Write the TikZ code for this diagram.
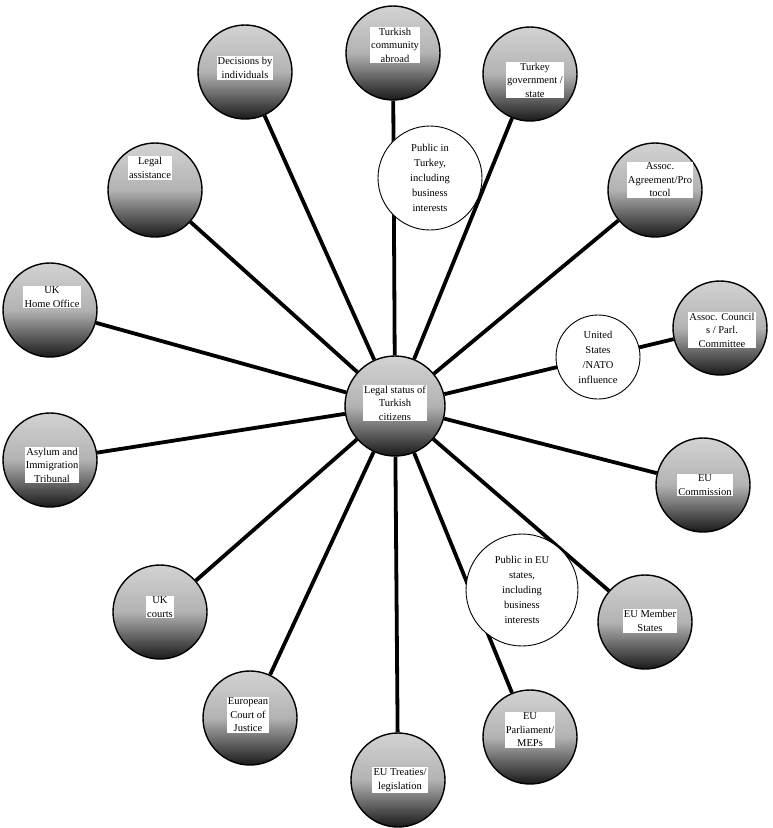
\documentclass[tikz,border=0pt]{standalone}
\usepackage{fontspec}
\setmainfont{Liberation Serif}
\begin{document}
\begin{tikzpicture}[x=1pt,y=-1pt,
  globe/.style={circle,minimum size=94pt,inner sep=0pt,draw=black,line width=1.4pt,
    top color=gray!35,bottom color=black!90,middle color=gray!60},
  hub/.style={globe,minimum size=100pt},
  pub/.style={circle,draw=black,line width=0.9pt,fill=white,align=center,inner sep=0pt,
    font=\fontsize{10.5}{15}\selectfont},
  lbl/.style={fill=white,inner sep=1.2pt,align=center,font=\fontsize{10.5}{13.5}\selectfont},
  spoke/.style={line width=3.8pt,black}]
\useasboundingbox (0,0) rectangle (772,828);
% hub
\node[hub] (c) at (395,406) {};
\node[lbl] (cl) at (395,403) {Legal status of\\Turkish\\citizens};
% outer globes
\node[globe] (g1) at (393,53) {};
\node[lbl] (g1l) at (395,45) {Turkish\\community\\abroad};
\node[globe] (g2) at (530,74) {};
\node[lbl] (g2l) at (535,80) {Turkey\\government /\\state};
\node[globe] (g3) at (245,72) {};
\node[lbl] (g3l) at (245,68) {Decisions by\\individuals};
\node[globe] (g4) at (155,190) {};
\node[lbl] (g4l) at (150,168) {Legal\\assistance};
\node[globe] (g5) at (655,190) {};
\node[lbl] (g5l) at (660,180) {Assoc.\\Agreement/Pro\\tocol};
\node[globe] (g6) at (50,310) {};
\node[lbl] (g6l) at (52,297) {UK\\Home Office};
\node[globe] (g7) at (720,328) {};
\node[lbl] (g7l) at (722,330) {Assoc. Council\\s / Parl.\\Committee};
\node[globe] (g8) at (50,460) {};
\node[lbl] (g8l) at (52,465) {Asylum and\\Immigration\\Tribunal};
\node[globe] (g9) at (703,485) {};
\node[lbl] (g9l) at (705,485) {EU\\Commission};
\node[globe] (g10) at (160,612) {};
\node[lbl] (g10l) at (160,607) {UK\\courts};
\node[globe] (g11) at (645,622) {};
\node[lbl] (g11l) at (650,621) {EU Member\\States};
\node[globe] (g12) at (250,718) {};
\node[lbl] (g12l) at (248,715) {European\\Court of\\Justice};
\node[globe] (g13) at (398,780) {};
\node[lbl] (g13l) at (400,780) {EU Treaties/\\legislation};
\node[globe] (g14) at (530,737) {};
\node[lbl] (g14l) at (530,730) {EU\\Parliament/\\MEPs};
% spokes
\foreach \g in {g1,g2,g3,g4,g5,g6,g7,g8,g9,g10,g11,g12,g13,g14}
  \draw[spoke] (c) -- (\g);
% white circles (drawn over the spokes)
\node[pub,minimum size=104pt] (pt) at (430,178) {Public in\\Turkey,\\including\\business\\interests};
\node[pub,minimum size=84pt] (us) at (598,357) {United\\States\\/NATO\\influence};
\node[pub,minimum size=112pt] (pe) at (522,590) {Public in EU\\states,\\including\\business\\interests};
\end{tikzpicture}
\end{document}
